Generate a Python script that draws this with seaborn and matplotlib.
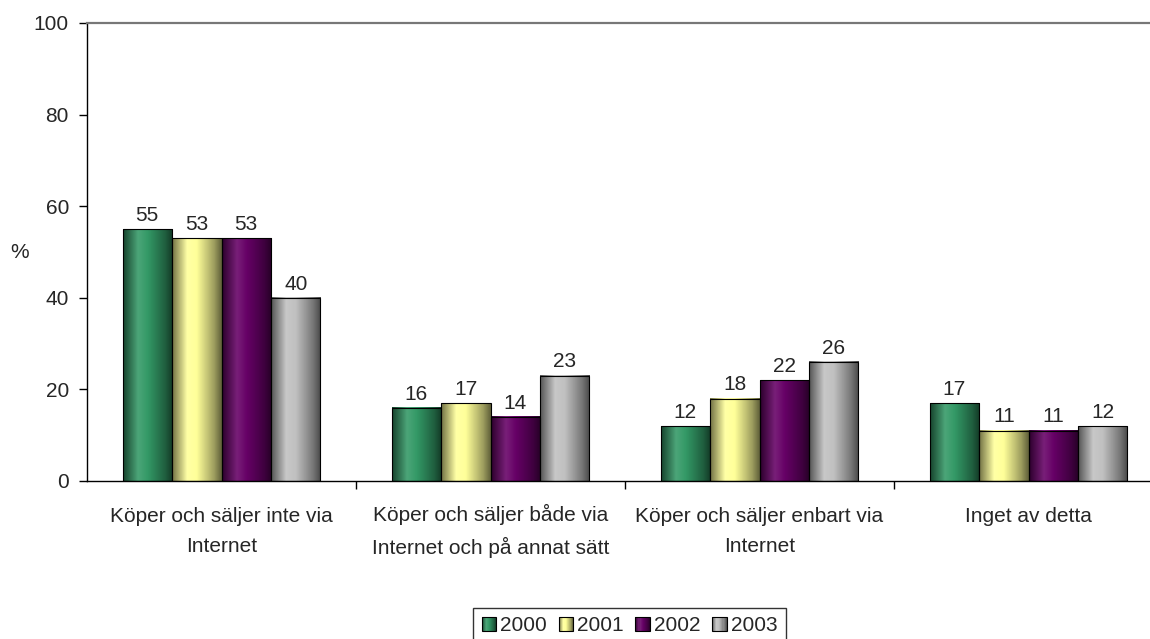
import numpy as np
import pandas as pd
import matplotlib
matplotlib.use('Agg')
import matplotlib.pyplot as plt
import seaborn as sns
from matplotlib.colors import LinearSegmentedColormap, to_rgb
from matplotlib.patches import Rectangle
from matplotlib.legend_handler import HandlerBase
from matplotlib.transforms import ScaledTranslation

categories = ['Köper och säljer inte via\nInternet',
              'Köper och säljer både via\nInternet och på annat sätt',
              'Köper och säljer enbart via\nInternet',
              'Inget av detta']
years = ['2000', '2001', '2002', '2003']
v2000 = [55, 16, 12, 17]
v2001 = [53, 17, 18, 11]
v2002 = [53, 14, 22, 11]
v2003 = [40, 23, 26, 12]
colors = ['#339966', '#FFFF99', '#660066', '#C0C0C0']

df = pd.DataFrame({
    'kategori': categories * 4,
    'ar': np.repeat(years, 4),
    'procent': v2000 + v2001 + v2002 + v2003,
})

sns.set_theme(style='white')
plt.rcParams['font.family'] = ['Liberation Sans', 'DejaVu Sans']
FS = 15


def gradient_cmap(color):
    c = np.array(to_rgb(color))
    light = c + (1 - c) * 0.12
    return LinearSegmentedColormap.from_list(
        'g', [(0.0, c * 0.45), (0.3, light), (0.5, c), (0.85, c * 0.62), (1.0, c * 0.38)])


class GradientHandler(HandlerBase):
    def create_artists(self, legend, orig_handle, xdescent, ydescent,
                       width, height, fontsize, trans):
        cmap = gradient_cmap(orig_handle.get_facecolor())
        n = 14
        arts = []
        for i in range(n):
            r = Rectangle((-xdescent + i * width / n, -ydescent), width / n, height,
                          facecolor=cmap((i + 0.5) / n), edgecolor='none', transform=trans)
            arts.append(r)
        arts.append(Rectangle((-xdescent, -ydescent), width, height, facecolor='none',
                              edgecolor='black', linewidth=0.8, transform=trans))
        return arts


fig = plt.figure(figsize=(11.5, 6.39), dpi=100)
ax = fig.add_axes([87 / 1150, 1 - 481 / 639, 1076 / 1150, 458 / 639])

sns.barplot(data=df, x='kategori', y='procent', hue='ar', palette=colors,
            width=0.736, edgecolor='black', linewidth=0.8, legend=False, ax=ax)

grad = np.linspace(0, 1, 64).reshape(1, -1)
for cont, col in zip(ax.containers, colors):
    cmap = gradient_cmap(col)
    for bar in cont:
        x0, w, h = bar.get_x(), bar.get_width(), bar.get_height()
        ax.imshow(grad, cmap=cmap, extent=(x0, x0 + w, 0, h), aspect='auto',
                  zorder=bar.get_zorder() - 0.1, interpolation='bilinear')
        bar.set_facecolor('none')
    ax.bar_label(cont, fmt='%d', padding=3, fontsize=FS)

ax.set_xlim(-0.5, 3.5)
ax.set_ylim(0, 100)
ax.set_yticks(range(0, 101, 20))
ax.set_xlabel('')
ax.set_ylabel('%', rotation=0, fontsize=FS, va='center', ha='center')
ax.yaxis.set_label_coords(-0.0623, 0.5)

ax.set_xticks([0.5, 1.5, 2.5], minor=True)
ax.tick_params(axis='x', which='major', length=0, pad=19, labelsize=FS)
ax.tick_params(axis='x', which='minor', length=6, width=1, color='black', direction='out', bottom=True)
ax.tick_params(axis='y', length=6, width=1, color='black', direction='out', left=True, pad=7, labelsize=FS)
for lab in ax.get_xticklabels():
    lab.set_linespacing(1.68)
    if 'både' in lab.get_text():
        # the ring on å makes this label sit lower than the others
        lab.set_transform(lab.get_transform() + ScaledTranslation(0, 0.03, fig.dpi_scale_trans))

ax.spines['right'].set_visible(False)
ax.spines['left'].set_color('black')
ax.spines['bottom'].set_color('black')
ax.spines['left'].set_linewidth(1)
ax.spines['bottom'].set_linewidth(1)
ax.spines['top'].set_color('#777777')
ax.spines['top'].set_linewidth(1.6)

handles = [Rectangle((0, 0), 1, 1, facecolor=c) for c in colors]
leg = fig.legend(handles, years, loc='upper center', bbox_to_anchor=(629.5 / 1150, 1 - 608 / 639),
                 ncol=4, fontsize=FS, frameon=True, fancybox=False, edgecolor='black',
                 handlelength=0.7, handleheight=0.7, handletextpad=0.2, columnspacing=0.55,
                 borderpad=0.4, borderaxespad=0, handler_map={Rectangle: GradientHandler()})
leg.get_frame().set_linewidth(1)

fig.savefig('out.png', dpi=100)
